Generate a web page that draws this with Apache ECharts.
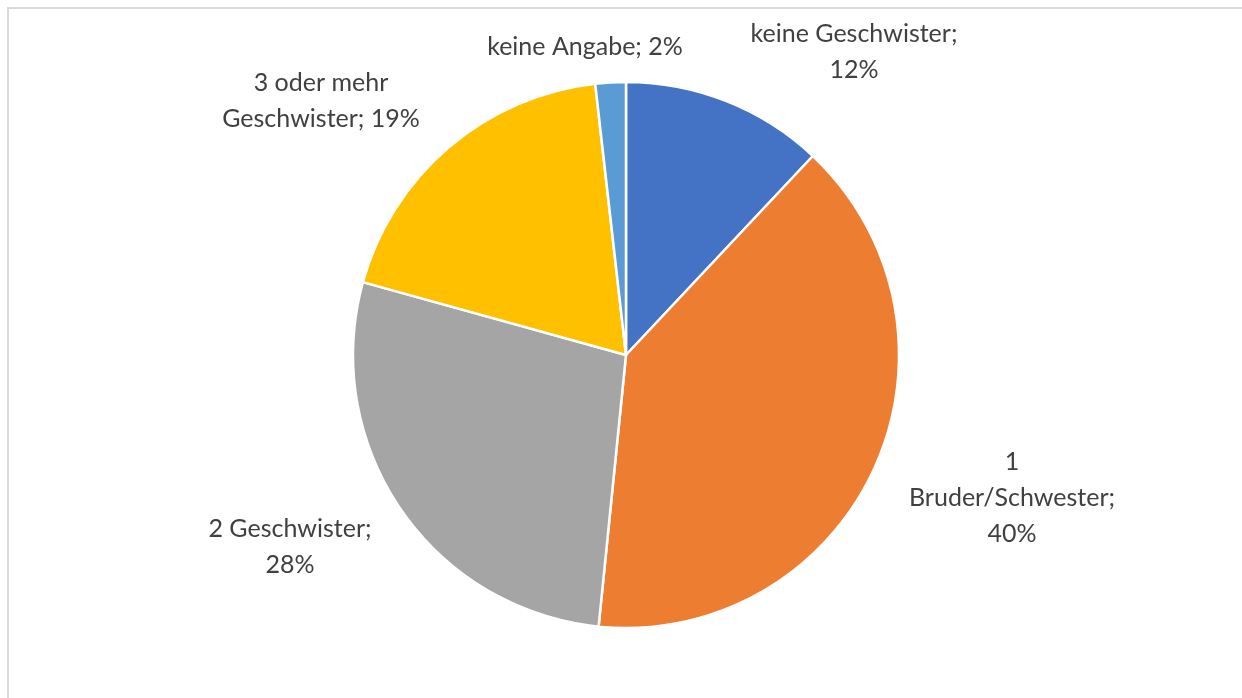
<!DOCTYPE html>
<html>
<head>
<meta charset="utf-8">
<script src="https://cdn.jsdelivr.net/npm/echarts@6/dist/echarts.min.js"></script>
<style>html,body{margin:0;padding:0;background:#fff}#c{width:1242px;height:698px}</style>
</head>
<body>
<div id="c"></div>
<script>
const categories = ['keine Geschwister', '1 Bruder/Schwester', '2 Geschwister', '3 oder mehr Geschwister', 'keine Angabe'];
const values = [12.0, 39.6, 27.7, 18.9, 1.8];
const labelTemplates = ['keine Geschwister;\n{p}', '1\nBruder/Schwester;\n{p}', '2 Geschwister;\n{p}', '3 oder mehr\nGeschwister; {p}', 'keine Angabe; {p}'];
const colors = ['#4472C4', '#ED7D31', '#A5A5A5', '#FFC000', '#5B9BD5'];
const labelPos = [[854, 52], [1012, 498], [290, 547], [321, 101], [585, 47]];

const chart = echarts.init(document.getElementById('c'));
chart.setOption({
  animation: false,
  graphic: [{
    type: 'rect', shape: {x: 8, y: 8, width: 1400, height: 900},
    style: {fill: 'none', stroke: '#d9d9d9', lineWidth: 2}, silent: true
  }],
  series: [{
    type: 'pie',
    center: [626, 355],
    radius: 273,
    startAngle: 90,
    clockwise: true,
    data: categories.map((n, i) => ({name: n, value: values[i], itemStyle: {color: colors[i]}})),
    itemStyle: {borderColor: '#fff', borderWidth: 2.5},
    label: {
      show: true,
      position: 'outside',
      fontFamily: 'Lato, sans-serif',
      fontSize: 25,
      lineHeight: 36,
      color: '#404040',
      align: 'center',
      formatter: p => labelTemplates[p.dataIndex].replace('{p}', Math.round(p.value) + '%')
    },
    labelLine: {show: false},
    labelLayout: p => ({x: labelPos[p.dataIndex][0], y: labelPos[p.dataIndex][1], align: 'center', verticalAlign: 'middle'})
  }]
});
</script>
</body>
</html>
